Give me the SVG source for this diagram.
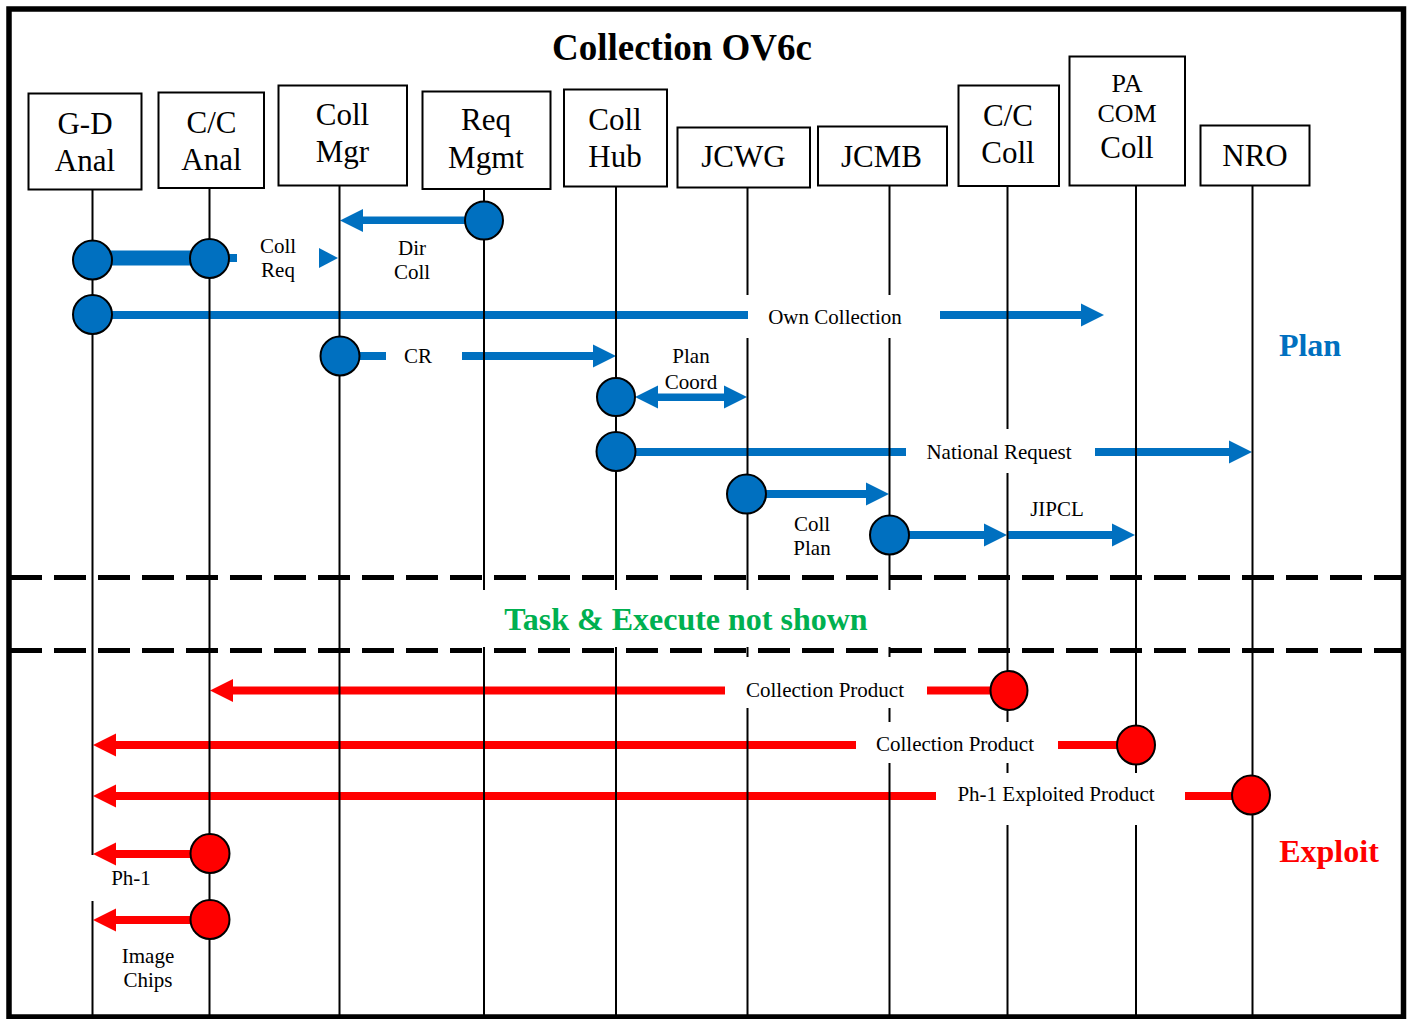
<svg xmlns="http://www.w3.org/2000/svg" width="1413" height="1019" viewBox="0 0 1413 1019">
  <defs>
    <style>
      .box { fill: #fff; stroke: #000; stroke-width: 2; }
      .life { fill: none; stroke: #000; stroke-width: 2; }
      .serif { font-family: "Liberation Serif", "Times New Roman", serif; text-anchor: middle; fill: #000; }
      .bt { font-size: 31px; }
      .bs { font-size: 26px; }
      .lbl { font-size: 21px; }
      .title { font-size: 37px; font-weight: bold; }
      .phase { font-size: 32px; font-weight: bold; }
      .b { fill: #0070C0; }
      .r { fill: #FF0000; }
      .dot-b { fill: #0070C0; stroke: #000; stroke-width: 2; }
      .dot-r { fill: #FF0000; stroke: #000; stroke-width: 2; }
      .sep { fill: none; stroke: #000; stroke-width: 5; stroke-dasharray: 32 12; }
    </style>
    <!-- arrowheads, tip at the origin -->
    <path id="headR" d="M0 0L-23 -11.5L-23 11.5Z"/>
    <path id="headL" d="M0 0L23 -11.5L23 11.5Z"/>
  </defs>

  <rect width="1413" height="1019" fill="#fff"/>

  <!-- frame -->
  <rect x="9" y="9" width="1394.5" height="1008" fill="none" stroke="#000" stroke-width="5.5"/>

  <text class="serif title" x="682" y="60">Collection OV6c</text>

  <!-- phase separators -->
  <line class="sep" x1="10" y1="577.5" x2="1403" y2="577.5"/>
  <line class="sep" x1="10" y1="650.5" x2="1403" y2="650.5"/>
  <text class="serif phase" x="686" y="630" style="fill:#00B050">Task &amp; Execute not shown</text>
  <text class="serif phase" x="1310" y="356" style="fill:#0070C0">Plan</text>
  <text class="serif phase" x="1329" y="862" style="fill:#FF0000">Exploit</text>

  <!-- messages -->
  <g id="connectors">
    <!-- Dir Coll -->
    <rect class="b" x="362" y="216.5" width="104" height="7.5"/>
    <use href="#headL" class="b" x="340" y="220.5"/>
    <text class="serif lbl" x="412" y="255">Dir</text>
    <text class="serif lbl" x="412" y="279">Coll</text>

    <!-- Coll Req -->
    <rect class="b" x="92" y="250.5" width="118" height="15"/>
    <rect class="b" x="228" y="254" width="9" height="8"/>
    <polygon class="b" points="338,258 319,248 319,268"/>
    <text class="serif lbl" x="278" y="253">Coll</text>
    <text class="serif lbl" x="278" y="277">Req</text>

    <!-- Own Collection -->
    <rect class="b" x="92" y="311" width="656" height="8"/>
    <text class="serif lbl" x="835" y="324">Own Collection</text>
    <rect class="b" x="940" y="311" width="143" height="8"/>
    <use href="#headR" class="b" x="1104" y="315"/>

    <!-- CR -->
    <rect class="b" x="359" y="352" width="27" height="8"/>
    <text class="serif lbl" x="418" y="363">CR</text>
    <rect class="b" x="462" y="352" width="132" height="8"/>
    <use href="#headR" class="b" x="616" y="356"/>

    <!-- Plan Coord -->
    <rect class="b" x="657" y="393.5" width="68" height="7.5"/>
    <use href="#headL" class="b" x="635" y="397"/>
    <use href="#headR" class="b" x="747" y="397"/>
    <text class="serif lbl" x="691" y="363">Plan</text>
    <text class="serif lbl" x="691" y="389">Coord</text>

    <!-- National Request -->
    <rect class="b" x="616" y="448" width="290" height="8"/>
    <text class="serif lbl" x="999" y="459">National Request</text>
    <rect class="b" x="1095" y="448" width="135" height="8"/>
    <use href="#headR" class="b" x="1252" y="452"/>

    <!-- Coll Plan -->
    <rect class="b" x="746" y="490" width="121" height="8"/>
    <use href="#headR" class="b" x="889" y="494"/>
    <text class="serif lbl" x="812" y="531">Coll</text>
    <text class="serif lbl" x="812" y="555">Plan</text>

    <!-- JIPCL -->
    <rect class="b" x="889" y="531" width="99" height="8"/>
    <use href="#headR" class="b" x="1007" y="535"/>
    <rect class="b" x="1007" y="531" width="106" height="8"/>
    <use href="#headR" class="b" x="1135" y="535"/>
    <text class="serif lbl" x="1057" y="516">JIPCL</text>

    <!-- Collection Product (C/C Coll to C/C Anal) -->
    <rect class="r" x="927" y="686.5" width="64" height="8"/>
    <text class="serif lbl" x="825" y="697">Collection Product</text>
    <rect class="r" x="232" y="686.5" width="493" height="8"/>
    <use href="#headL" class="r" x="210" y="690.5"/>

    <!-- Collection Product (PA COM Coll to G-D Anal) -->
    <rect class="r" x="1058" y="741" width="60" height="8"/>
    <text class="serif lbl" x="955" y="751">Collection Product</text>
    <rect class="r" x="115" y="741" width="741" height="8"/>
    <use href="#headL" class="r" x="93" y="745"/>

    <!-- Ph-1 Exploited Product -->
    <rect class="r" x="1185" y="792" width="48" height="8"/>
    <text class="serif lbl" x="1056" y="801">Ph-1 Exploited Product</text>
    <rect class="r" x="115" y="792" width="821" height="8"/>
    <use href="#headL" class="r" x="93" y="796"/>

    <!-- Ph-1 -->
    <rect class="r" x="115" y="850" width="77" height="8"/>
    <use href="#headL" class="r" x="93" y="854"/>
    <text class="serif lbl" x="131" y="885">Ph-1</text>

    <!-- Image Chips -->
    <rect class="r" x="115" y="916" width="77" height="8"/>
    <use href="#headL" class="r" x="93" y="920"/>
    <text class="serif lbl" x="148" y="963">Image</text>
    <text class="serif lbl" x="148" y="987">Chips</text>
  </g>

  <!-- participants with their lifelines -->
  <g id="nodes">
    <g id="node-gd-anal">
      <rect class="box" x="28.5" y="93.5" width="113" height="96"/>
      <text class="serif bt" x="85" y="134">G-D</text>
      <text class="serif bt" x="85" y="170.5">Anal</text>
      <path class="life" d="M92.5 189.5V855M92.5 901V1017"/>
    </g>
    <g id="node-cc-anal">
      <rect class="box" x="158.5" y="92.5" width="105.5" height="95.5"/>
      <text class="serif bt" x="211.5" y="133">C/C</text>
      <text class="serif bt" x="211.5" y="169.5">Anal</text>
      <path class="life" d="M209.5 188V1017"/>
    </g>
    <g id="node-coll-mgr">
      <rect class="box" x="278.5" y="85.5" width="128.5" height="100"/>
      <text class="serif bt" x="342.5" y="125">Coll</text>
      <text class="serif bt" x="342.5" y="162">Mgr</text>
      <path class="life" d="M339.5 185.5V1017"/>
    </g>
    <g id="node-req-mgmt">
      <rect class="box" x="422.5" y="91.5" width="128" height="97.5"/>
      <text class="serif bt" x="486" y="130">Req</text>
      <text class="serif bt" x="486" y="168">Mgmt</text>
      <path class="life" d="M484 189V590M484 647V1017"/>
    </g>
    <g id="node-coll-hub">
      <rect class="box" x="564" y="89.5" width="103" height="97"/>
      <text class="serif bt" x="615" y="129.5">Coll</text>
      <text class="serif bt" x="615" y="167">Hub</text>
      <path class="life" d="M616 186.5V590M616 647V1017"/>
    </g>
    <g id="node-jcwg">
      <rect class="box" x="677.5" y="127.5" width="132.5" height="60"/>
      <text class="serif bt" x="743.5" y="167">JCWG</text>
      <path class="life" d="M747.5 187.5V295M747.5 338V590M747.5 647V657M747.5 708V1017"/>
    </g>
    <g id="node-jcmb">
      <rect class="box" x="818" y="126.5" width="129" height="59"/>
      <text class="serif bt" x="881.5" y="166.5">JCMB</text>
      <path class="life" d="M889.5 185.5V295M889.5 338V590M889.5 647V657M889.5 708V722M889.5 763V1017"/>
    </g>
    <g id="node-cc-coll">
      <rect class="box" x="958.5" y="85.5" width="100.5" height="100.5"/>
      <text class="serif bt" x="1008" y="126">C/C</text>
      <text class="serif bt" x="1008" y="162.5">Coll</text>
      <path class="life" d="M1007.5 186V429M1007.5 473V722M1007.5 763V773M1007.5 825V1017"/>
    </g>
    <g id="node-pa-com-coll">
      <rect class="box" x="1069.5" y="56.5" width="115.5" height="129"/>
      <text class="serif bs" x="1127" y="92">PA</text>
      <text class="serif bs" x="1127" y="122">COM</text>
      <text class="serif bt" x="1127" y="157.5">Coll</text>
      <path class="life" d="M1136 185.5V773M1136 825V1017"/>
    </g>
    <g id="node-nro">
      <rect class="box" x="1200.5" y="125.5" width="109" height="60"/>
      <text class="serif bt" x="1255" y="166">NRO</text>
      <path class="life" d="M1252.5 185.5V1017"/>
    </g>
  </g>

  <!-- message origins -->
  <g id="activations">
    <circle class="dot-b" cx="484" cy="220.5" r="19"/>
    <circle class="dot-b" cx="92.5" cy="260" r="19.5"/>
    <circle class="dot-b" cx="209.5" cy="258.5" r="19.5"/>
    <circle class="dot-b" cx="92.5" cy="314.5" r="19.5"/>
    <circle class="dot-b" cx="340" cy="356" r="19.5"/>
    <circle class="dot-b" cx="616" cy="397" r="19"/>
    <circle class="dot-b" cx="616" cy="451.5" r="19.5"/>
    <circle class="dot-b" cx="746.5" cy="494" r="19.5"/>
    <circle class="dot-b" cx="889.5" cy="535" r="19.5"/>
    <ellipse class="dot-r" cx="1009" cy="690.5" rx="18.5" ry="19.5"/>
    <ellipse class="dot-r" cx="1136" cy="745" rx="19" ry="19.5"/>
    <ellipse class="dot-r" cx="1251" cy="795" rx="19" ry="19.5"/>
    <circle class="dot-r" cx="210" cy="853.5" r="19.5"/>
    <circle class="dot-r" cx="210" cy="919.5" r="19.5"/>
  </g>
</svg>
